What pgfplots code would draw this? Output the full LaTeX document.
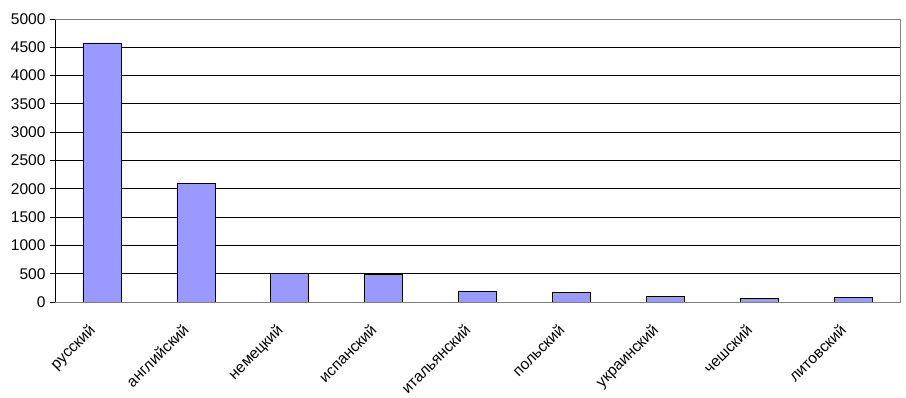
\documentclass[border=0pt]{standalone}
\usepackage{fontspec}
\setmainfont{Liberation Sans}
\usepackage{pgfplots}
\pgfplotsset{compat=1.18}
\definecolor{barblue}{HTML}{9999FF}
\begin{document}
\begin{tikzpicture}[font=\fontsize{15.5}{17}\selectfont]
\begin{axis}[
  scale only axis,
  width=845pt, height=283pt,
  xmin=-0.5, xmax=8.5,
  ymin=0, ymax=5000,
  ytick={0,500,...,5000},
  xtick={0,...,8},
  xticklabels={русский,английский,немецкий,испанский,итальянский,польский,украинский,чешский,литовский},
  tick label style={font=\fontsize{15.5}{17}\selectfont},
  x tick label style={font=\fontsize{15.5}{17}\selectfont, rotate=45, anchor=north east, inner sep=1pt, xshift=-20pt, yshift=0pt},
  major x tick style={draw=none},
  extra x ticks={-0.5,0.5,...,8.5},
  extra x tick labels={},
  extra x tick style={major tick length=5pt, tick align=outside, tick style={black, line width=0.8pt}, grid=none},
  ymajorgrids,
  grid style={black, line width=0.8pt},
  tick align=outside,
  major tick length=5pt,
  tick style={black, line width=0.8pt},
  ytick pos=left,
  xtick pos=bottom,
  axis line style={draw=gray, line width=0.8pt},
  /pgf/number format/assume math mode=true,
  /pgf/number format/1000 sep={},
  y tick label style={xshift=-1pt},
  ybar,
  bar width=38pt,
]
\addplot[fill=barblue, draw=black, line width=0.6pt] coordinates {(0,4577) (1,2095) (2,512) (3,494) (4,192) (5,173) (6,101) (7,65) (8,83)};
\draw[black, line width=0.8pt] (axis cs:-0.5,0) -- (axis cs:-0.5,5000);
\draw[black, line width=0.8pt] (axis cs:-0.5,0) -- (axis cs:8.5,0);
\draw[gray, line width=0.8pt] (axis cs:-0.5,5000) -- (axis cs:8.5,5000);
\end{axis}
\pgfresetboundingbox
\path (-55pt,-96pt) rectangle (851pt,302pt);
\end{tikzpicture}
\end{document}
